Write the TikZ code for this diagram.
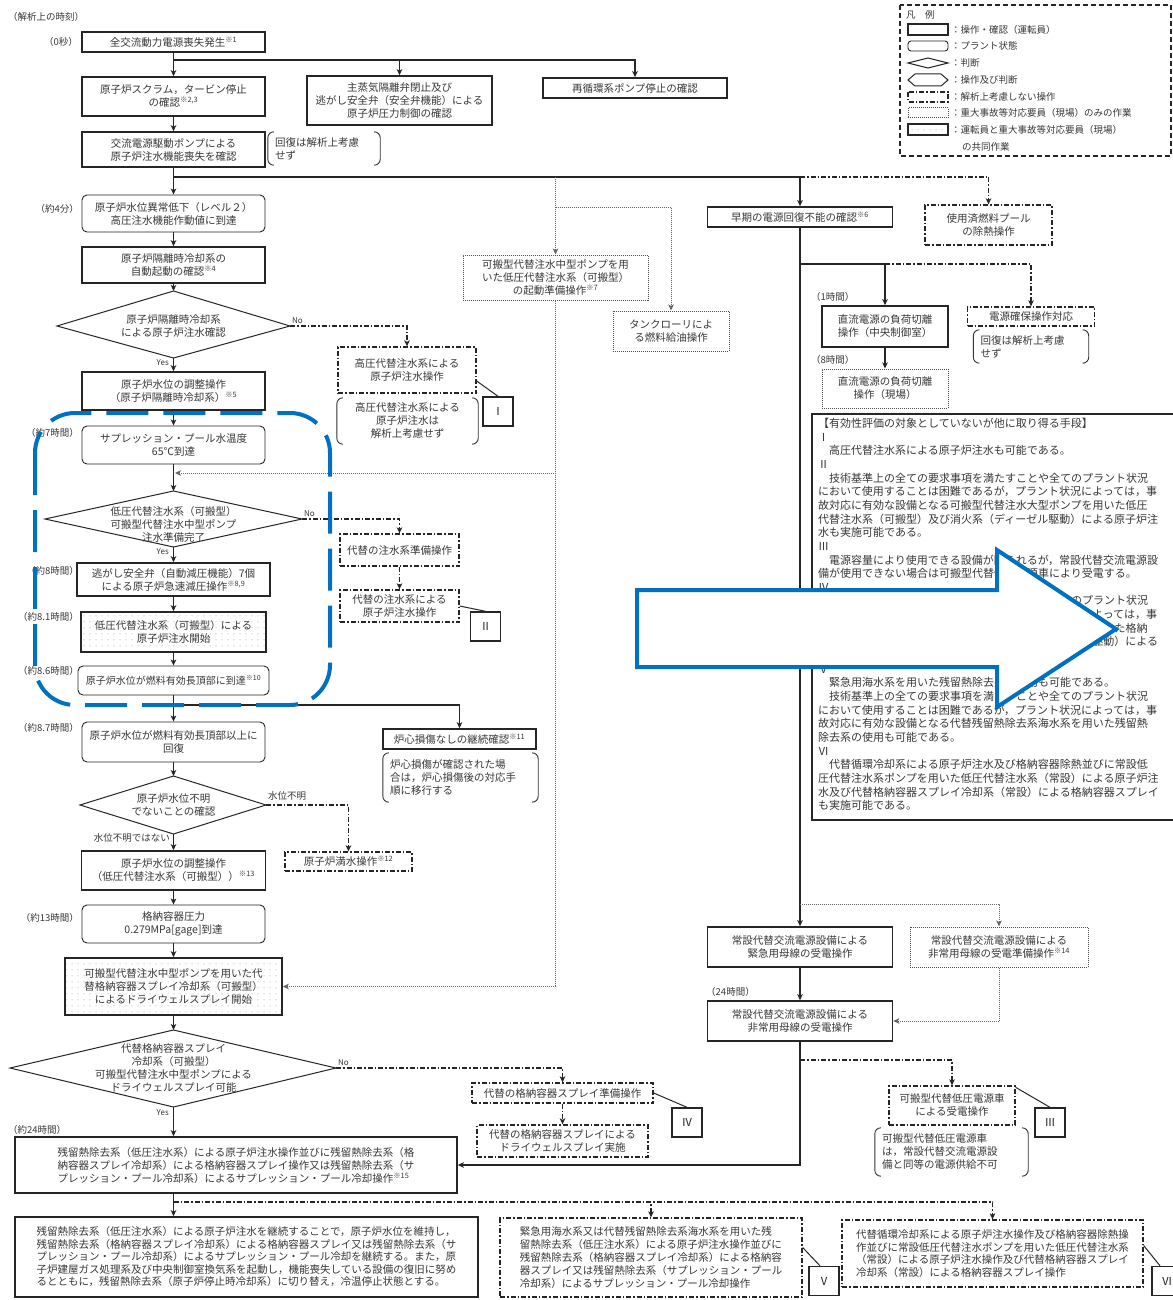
\documentclass[tikz,border=0pt]{standalone}
\usepackage{fontspec}
\setmainfont{Noto Sans CJK JP}
\usetikzlibrary{arrows.meta,patterns.meta,calc}
\newcommand\fs{\fontsize{10.5}{13}\selectfont}
\newcommand\fl{\fontsize{9.5}{11}\selectfont}
\newcommand\kome[1]{\textsuperscript{※#1}}
\definecolor{txt}{gray}{0.22}
\definecolor{ovblue}{RGB}{0,112,192}
\newcommand\mybrk[1]{%
  \draw[brk] ([xshift=6pt]#1.north west) -- (#1.north west) -- (#1.south west) -- ([xshift=6pt]#1.south west);
  \draw[brk] ([xshift=-6pt]#1.north east) -- (#1.north east) -- (#1.south east) -- ([xshift=-6pt]#1.south east);}
\tikzset{
  base/.style={font=\fs, text=txt, align=center, inner sep=1pt},
  opbox/.style={base, draw=black!85, line width=1.6pt},
  plantbox/.style={base, draw=black!85, line width=0.9pt, rounded corners=5pt},
  ddbox/.style={base, draw=black!85, line width=1.3pt, dash pattern=on 5pt off 2pt on 1.5pt off 2pt},
  dotbox/.style={base, draw=black!70, line width=1pt, dash pattern=on 1pt off 1pt},
  jointbox/.style={opbox, pattern={Dots[distance=6pt,radius=0.5pt]}, pattern color=black!45},
  notebox/.style={base, align=left, inner xsep=7pt},
  brk/.style={draw=black!80, line width=0.9pt, rounded corners=6pt},
  lab/.style={draw=black!85, line width=1.4pt, minimum width=30pt, minimum height=29pt, inner sep=0pt, font=\fontsize{11}{12}\selectfont, text=black!85},
  lbl/.style={font=\fl, text=txt, inner sep=0pt},
  yn/.style={font=\fontsize{8}{9}\selectfont, text=txt, inner sep=0pt},
  dia/.style={draw=black!85, line width=1pt},
  tip/.style={-{Stealth[length=6pt,width=5.5pt,inset=1.5pt]}},
  ln/.style={draw=black!85, line width=1.1pt},
  arr/.style={ln, tip},
  ddarr/.style={ln, dash pattern=on 5pt off 2pt on 1.5pt off 2pt, tip},
  dotarr/.style={draw=black!60, line width=0.9pt, dash pattern=on 1pt off 1pt, tip},
}
\begin{document}
\begin{tikzpicture}[x=1pt,y=-1pt]
\useasboundingbox (0,0) rectangle (1172,1300);
\fill[white] (0,0) rectangle (1172,1300);

% ---------- time labels ----------
\node[lbl, anchor=west] (tl0) at (8,17) {（解析上の時刻）};
\node[lbl, anchor=east] (tl1) at (78,42) {（0秒）};
\node[lbl, anchor=east] (tl2) at (79,209) {（約4分）};
\node[lbl, anchor=east] (tl3) at (79,433) {（約7時間）};
\node[lbl, anchor=east] (tl4) at (79,571) {（約8時間）};
\node[lbl, anchor=east] (tl5) at (79,617) {（約8.1時間）};
\node[lbl, anchor=east] (tl6) at (79,671) {（約8.6時間）};
\node[lbl, anchor=east] (tl7) at (79,728) {（約8.7時間）};
\node[lbl, anchor=east] (tl8) at (79,918) {（約13時間）};
\node[lbl, anchor=west] (tl9) at (8,1130) {（約24時間）};
\node[lbl, anchor=west] (tr1) at (811,297) {（1時間）};
\node[lbl, anchor=west] (tr2) at (811,360) {（8時間）};
\node[lbl, anchor=west] (tr3) at (706,992) {（24時間）};

% ---------- main column ----------
\node[opbox, minimum width=183pt, minimum height=20pt] (n1) at (173.5,42) {全交流動力電源喪失発生\kome{1}};
\node[opbox, minimum width=183pt, minimum height=39pt] (n2) at (173.5,96.5) {原子炉スクラム，タービン停止\\の確認\kome{2,3}};
\node[opbox, minimum width=185pt, minimum height=49pt] (n3) at (399.5,100.5) {主蒸気隔離弁閉止及び\\逃がし安全弁（安全弁機能）による\\原子炉圧力制御の確認};
\node[opbox, minimum width=184pt, minimum height=20pt] (n4) at (635,88) {再循環系ポンプ停止の確認};
\node[opbox, minimum width=183pt, minimum height=35pt] (n5) at (173.5,149.5) {交流電源駆動ポンプによる\\原子炉注水機能喪失を確認};
\node[notebox, text width=98pt, minimum height=33pt] (note1) at (324,148.5) {回復は解析上考慮\\せず};
\node[plantbox, minimum width=183pt, minimum height=37pt] (n6) at (173.5,213.5) {原子炉水位異常低下（レベル２）\\高圧注水機能作動値に到達};
\node[opbox, minimum width=183pt, minimum height=36pt] (n7) at (173.5,265) {原子炉隔離時冷却系の\\自動起動の確認\kome{4}};

\coordinate (d1t) at (173.5,291); \coordinate (d1b) at (173.5,358);
\coordinate (d1l) at (57,326);    \coordinate (d1r) at (290,326);
\draw[dia] (d1t) -- (d1r) -- (d1b) -- (d1l) -- cycle;
\node[base] (d1) at (173.5,326) {原子炉隔離時冷却系\\による原子炉注水確認};

\node[opbox, minimum width=183pt, minimum height=38pt] (n8) at (173.5,391) {原子炉水位の調整操作\\（原子炉隔離時冷却系）\kome{5}};
\node[plantbox, minimum width=183pt, minimum height=38pt] (n9) at (173.5,445) {サプレッション・プール水温度\\65℃到達};

\coordinate (d2t) at (173.5,491); \coordinate (d2b) at (173.5,547);
\coordinate (d2l) at (45,519);    \coordinate (d2r) at (302,519);
\draw[dia] (d2t) -- (d2r) -- (d2b) -- (d2l) -- cycle;
\node[base] (d2) at (173.5,524) {低圧代替注水系（可搬型）\\可搬型代替注水中型ポンプ\\注水準備完了};

\node[opbox, minimum width=193pt, minimum height=33pt] (n10) at (173.5,579.5) {逃がし安全弁（自動減圧機能）7個\\による原子炉急速減圧操作\kome{8,9}};
\node[jointbox, minimum width=185pt, minimum height=40pt] (n11) at (173.5,632) {低圧代替注水系（可搬型）による\\原子炉注水開始};
\node[plantbox, font=\fontsize{10}{12}\selectfont, minimum width=191pt, minimum height=29pt] (n12) at (173.5,680.5) {原子炉水位が燃料有効長頂部に到達\kome{10}};
\node[plantbox, minimum width=183pt, minimum height=40pt] (n13) at (173.5,742) {原子炉水位が燃料有効長頂部以上に\\回復};

\coordinate (d3t) at (173.5,776); \coordinate (d3b) at (173.5,834);
\coordinate (d3l) at (80,805);    \coordinate (d3r) at (266,805);
\draw[dia] (d3t) -- (d3r) -- (d3b) -- (d3l) -- cycle;
\node[base] (d3) at (173.5,805) {原子炉水位不明\\でないことの確認};

\node[opbox, minimum width=184pt, minimum height=39pt] (n14) at (173.5,870.5) {原子炉水位の調整操作\\（低圧代替注水系（可搬型））\kome{13}};
\node[plantbox, minimum width=183pt, minimum height=38pt] (n15) at (173.5,924) {格納容器圧力\\0.279MPa[gage]到達};
\node[jointbox, minimum width=217pt, minimum height=57pt] (n16) at (173.5,986.5) {可搬型代替注水中型ポンプを用いた代\\替格納容器スプレイ冷却系（可搬型）\\によるドライウェルスプレイ開始};

\coordinate (d4t) at (173.5,1030); \coordinate (d4b) at (173.5,1107);
\coordinate (d4l) at (10,1068);    \coordinate (d4r) at (336,1068);
\draw[dia] (d4t) -- (d4r) -- (d4b) -- (d4l) -- cycle;
\node[base] (d4) at (173.5,1068) {代替格納容器スプレイ\\冷却系（可搬型）\\可搬型代替注水中型ポンプによる\\ドライウェルスプレイ可能};

\node[opbox, align=left, minimum width=442pt, minimum height=56pt] (n17) at (236,1165) {残留熱除去系（低圧注水系）による原子炉注水操作並びに残留熱除去系（格\\納容器スプレイ冷却系）による格納容器スプレイ操作又は残留熱除去系（サ\\プレッション・プール冷却系）によるサプレッション・プール冷却操作\kome{15}};
\node[opbox, align=left, font=\fontsize{10.5}{12.5}\selectfont, minimum width=463pt, minimum height=80pt] (n18) at (246.5,1257) {残留熱除去系（低圧注水系）による原子炉注水を継続することで，原子炉水位を維持し，\\残留熱除去系（格納容器スプレイ冷却系）による格納容器スプレイ又は残留熱除去系（サ\\プレッション・プール冷却系）によるサプレッション・プール冷却を継続する。また，原\\子炉建屋ガス処理系及び中央制御室換気系を起動し，機能喪失している設備の復旧に努め\\るとともに，残留熱除去系（原子炉停止時冷却系）に切り替え，冷温停止状態とする。};

% ---------- side boxes ----------
\node[dotbox, minimum width=185pt, minimum height=45pt] (s1) at (555.5,277.5) {可搬型代替注水中型ポンプを用\\いた低圧代替注水系（可搬型）\\の起動準備操作\kome{7}};
\node[dotbox, minimum width=116pt, minimum height=40pt] (s2) at (671,331) {タンクローリによ\\る燃料給油操作};
\node[ddbox, minimum width=138pt, minimum height=46pt] (s3) at (407,370) {高圧代替注水系による\\原子炉注水操作};
\node[base, minimum width=141pt, minimum height=46pt] (note2) at (407.5,421) {高圧代替注水系による\\原子炉注水は\\解析上考慮せず};
\node[lab] (LI) at (498,411.5) {Ⅰ};
\node[ddbox, minimum width=119pt, minimum height=32pt] (s4) at (399.5,550) {代替の注水系準備操作};
\node[ddbox, minimum width=119pt, minimum height=32pt] (s5) at (399.5,606) {代替の注水系による\\原子炉注水操作};
\node[lab] (LII) at (485.5,626.5) {Ⅱ};
\node[opbox, minimum width=153pt, minimum height=20pt] (s6) at (459.5,739) {炉心損傷なしの継続確認\kome{11}};
\node[notebox, text width=141pt, minimum height=49pt] (note3) at (460.5,777.5) {炉心損傷が確認された場\\合は，炉心損傷後の対応手\\順に移行する};
\node[ddbox, minimum width=127pt, minimum height=19pt] (s7) at (348.5,861.5) {原子炉満水操作\kome{12}};
\node[ddbox, minimum width=181pt, minimum height=20pt] (s8) at (562.5,1093) {代替の格納容器スプレイ準備操作};
\node[ddbox, minimum width=171pt, minimum height=32pt] (s9) at (562.5,1141) {代替の格納容器スプレイによる\\ドライウェルスプレイ実施};
\node[lab] (LIV) at (687,1122.5) {Ⅳ};

% ---------- right column ----------
\node[opbox, minimum width=185pt, minimum height=20pt] (r1) at (800,217) {早期の電源回復不能の確認\kome{6}};
\node[ddbox, minimum width=127pt, minimum height=40pt] (r2) at (988.5,225) {使用済燃料プール\\の除熱操作};
\node[opbox, minimum width=126pt, minimum height=41pt] (r3) at (885,326.5) {直流電源の負荷切離\\操作（中央制御室）};
\node[ddbox, minimum width=127pt, minimum height=19pt] (r4) at (1031,316.5) {電源確保操作対応};
\node[notebox, text width=101pt, minimum height=33pt] (note4) at (1031,346.5) {回復は解析上考慮\\せず};
\node[dotbox, minimum width=126pt, minimum height=39pt] (r5) at (885,388.5) {直流電源の負荷切離\\操作（現場）};
\node[opbox, minimum width=185pt, minimum height=40pt] (r6) at (800,947) {常設代替交流電源設備による\\緊急用母線の受電操作};
\node[dotbox, minimum width=178pt, minimum height=40pt] (r7) at (999,947) {常設代替交流電源設備による\\非常用母線の受電準備操作\kome{14}};
\node[opbox, minimum width=185pt, minimum height=40pt] (r8) at (800,1021) {常設代替交流電源設備による\\非常用母線の受電操作};
\node[ddbox, minimum width=126pt, minimum height=39pt] (r9) at (952,1105.5) {可搬型代替低圧電源車\\による受電操作};
\node[notebox, text width=139pt, minimum height=48pt] (note5) at (951.5,1152) {可搬型代替低圧電源車\\は，常設代替交流電源設\\備と同等の電源供給不可};
\node[lab] (LIII) at (1050,1122.5) {Ⅲ};

\node[ddbox, align=left, font=\fontsize{10.5}{13.2}\selectfont, minimum width=302pt, minimum height=79pt] (V) at (651,1257.5) {緊急用海水系又は代替残留熱除去系海水系を用いた残\\留熱除去系（低圧注水系）による原子炉注水操作並びに\\残留熱除去系（格納容器スプレイ冷却系）による格納容\\器スプレイ又は残留熱除去系（サプレッション・プール\\冷却系）によるサプレッション・プール冷却操作};
\node[lab] (LV) at (824,1281) {Ⅴ};
\node[ddbox, align=left, font=\fontsize{10.5}{12.6}\selectfont, minimum width=301pt, minimum height=67pt] (VI) at (992.5,1253.5) {代替循環冷却系による原子炉注水操作及び格納容器除熱操\\作並びに常設低圧代替注水ポンプを用いた低圧代替注水系\\（常設）による原子炉注水操作及び代替格納容器スプレイ\\冷却系（常設）による格納容器スプレイ操作};
\node[lab] (LVI) at (1167,1281) {Ⅵ};

% ---------- brackets ----------
\mybrk{note1} \mybrk{note2} \mybrk{note3} \mybrk{note4} \mybrk{note5}

% ---------- yes / no ----------
\node[yn, anchor=south west] (y1n) at (292,324) {No};
\node[yn, anchor=east] (y1y) at (169,363) {Yes};
\node[yn, anchor=south west] (y2n) at (304,517) {No};
\node[yn, anchor=east] (y2y) at (169,552) {Yes};
\node[lbl, anchor=south west] (y3n) at (268,801) {水位不明};
\node[lbl, anchor=east] (y3y) at (170,838) {水位不明ではない};
\node[yn, anchor=south west] (y4n) at (338,1066) {No};
\node[yn, anchor=east] (y4y) at (169,1113) {Yes};

% ---------- connectors : main ----------
\coordinate (j1) at (173.5,60);
\coordinate (j2) at (173.5,177);
\coordinate (j3) at (555.5,177);
\coordinate (j4) at (555.5,207);
\coordinate (j5) at (175,473);
\coordinate (j6) at (173.5,705);
\coordinate (j7) at (173.5,1202);
\draw[arr] (n1.south) -- (n2.north);
\draw[arr] (j1) -| (n3.north);
\draw[arr] (j1) -| (n4.north);
\draw[arr] (n2.south) -- (n5.north);
\draw[arr] (n5.south) -- (n6.north);
\draw[arr] (j2) -| (r1.north);
\draw[ddarr] (r1.north |- j2) -| (r2.north);
\draw[dotarr] (j3) -- (s1.north);
\draw[dotarr] (j4) -| (s2.north);
\draw[arr] (n6.south) -- (n7.north);
\draw[arr] (n7.south) -- (d1t);
\draw[ddarr] (d1r) -| (s3.north);
\draw[arr] (d1b) -- (n8.north);
\draw[arr] (n8.south) -- (n9.north);
\draw[arr] (n9.south) -- (d2t);
\draw[dotarr] (s1.south) |- (n16.east);
\draw[dotarr] (s1.south |- j5) -- (j5);
\draw[ddarr] (d2r) -| (s4.north);
\draw[ddarr] (s4.south) -- (s5.north);
\draw[arr] (d2b) -- (n10.north);
\draw[arr] (n10.south) -- (n11.north);
\draw[arr] (n11.south) -- (n12.north);
\draw[arr] (n12.south) -- (n13.north);
\draw[arr] (j6) -| (s6.north);
\draw[arr] (n13.south) -- (d3t);
\draw[ddarr] (d3r) -| (s7.north);
\draw[arr] (d3b) -- (n14.north);
\draw[arr] (n14.south) -- (n15.north);
\draw[arr] (n15.south) -- (n16.north);
\draw[arr] (n16.south) -- (d4t);
\draw[ddarr] (d4r) -| (s8.north);
\draw[ddarr] (s8.south) -- (s9.north);
\draw[arr] (d4b) -- (d4b |- n17.north);
\draw[arr] (n17.south -| d4b) -- (d4b |- n18.north);
\draw[ddarr] (j7) -| (V.north);
\draw[ddarr] (j7) -| (VI.north);

% ---------- connectors : right ----------
\coordinate (j8) at (800,264);
\coordinate (j9) at (800,904);
\coordinate (j10) at (800,1060);
\draw[arr] (r1.south) -- (r6.north);
\draw[arr] (j8) -| (r3.north);
\draw[ddarr] (r3.north |- j8) -| (r4.north);
\draw[arr] (r3.south) -- (r5.north);
\draw[dotarr] (j9) -| (r7.north);
\draw[arr] (r6.south) -- (r8.north);
\draw[dotarr] (r7.south) |- (r8.east);
\draw[ddarr] (j10) -| (r9.north);
\draw[arr] (r8.south) |- (n17.east);

% ---------- label leaders ----------
\draw[ln, line width=1pt] ([yshift=-11pt]s3.east) -- (LI.north);
\draw[ln, line width=1pt] (s5.east) -- (LII.north);
\draw[ln, line width=1pt] ([yshift=-2pt]r9.north east) -- (LIII.north);
\draw[ln, line width=1pt] (s8.east) -- (LIV.north);
\draw[ln, line width=1pt] ([yshift=10pt]V.east) -- ([xshift=-4pt]LV.north);
\draw[ln, line width=1pt] ([yshift=8pt]VI.east) -- ([xshift=-7pt]LVI.north);

% ---------- big text box ----------
\draw[draw=black!85, line width=1.4pt] (812,414) rectangle (1180,820);
\node[anchor=north west, font=\fontsize{11}{13.65}\selectfont, text=txt, align=left, inner sep=0pt] (big) at (818,418) {%
【有効性評価の対象としていないが他に取り得る手段】\\
Ⅰ\\
\hspace*{1em}高圧代替注水系による原子炉注水も可能である。\\
Ⅱ\\
\hspace*{1em}技術基準上の全ての要求事項を満たすことや全てのプラント状況\\
において使用することは困難であるが，プラント状況によっては，事\\
故対応に有効な設備となる可搬型代替注水大型ポンプを用いた低圧\\
代替注水系（可搬型）及び消火系（ディーゼル駆動）による原子炉注\\
水も実施可能である。\\
Ⅲ\\
\hspace*{1em}電源容量により使用できる設備が限られるが，常設代替交流電源設\\
備が使用できない場合は可搬型代替低圧電源車により受電する。\\
Ⅳ\\
\hspace*{1em}技術基準上の全ての要求事項を満たすことや全てのプラント状況\\
において使用することは困難であるが，プラント状況によっては，事\\
故対応に有効な設備となる可搬型代替注水大型ポンプを用いた格納\\
容器スプレイ冷却系（可搬型）及び消火系（ディーゼル駆動）による\\
格納容器スプレイも実施可能である。\\
Ⅴ\\
\hspace*{1em}緊急用海水系を用いた残留熱除去系の使用も可能である。\\
\hspace*{1em}技術基準上の全ての要求事項を満たすことや全てのプラント状況\\
において使用することは困難であるが，プラント状況によっては，事\\
故対応に有効な設備となる代替残留熱除去系海水系を用いた残留熱\\
除去系の使用も可能である。\\
Ⅵ\\
\hspace*{1em}代替循環冷却系による原子炉注水及び格納容器除熱並びに常設低\\
圧代替注水系ポンプを用いた低圧代替注水系（常設）による原子炉注\\
水及び代替格納容器スプレイ冷却系（常設）による格納容器スプレイ\\
も実施可能である。};

% ---------- legend ----------
\draw[draw=black!85, line width=1.2pt, dash pattern=on 5pt off 3pt] (900,5) rectangle (1171,156);
\node[lbl, anchor=west] (lg0) at (906,15) {凡\quad 例};
\draw[draw=black!85, line width=1.6pt] (908,24) rectangle (948,35);
\node[lbl, anchor=west] (lg1) at (951,30) {：操作・確認（運転員）};
\draw[draw=black!85, line width=0.9pt, rounded corners=3pt] (908,41) rectangle (948,51);
\node[lbl, anchor=west] (lg2) at (951,46) {：プラント状態};
\draw[draw=black!85, line width=1pt] (908,63) -- (928,58) -- (948,63) -- (928,68) -- cycle;
\node[lbl, anchor=west] (lg3) at (951,63) {：判断};
\draw[draw=black!85, line width=1pt] (908,80) -- (915,74) -- (941,74) -- (948,80) -- (941,86) -- (915,86) -- cycle;
\node[lbl, anchor=west] (lg4) at (951,80) {：操作及び判断};
\draw[draw=black!85, line width=1.3pt, dash pattern=on 5pt off 2pt on 1.5pt off 2pt] (908,92) rectangle (948,102);
\node[lbl, anchor=west] (lg5) at (951,97) {：解析上考慮しない操作};
\draw[draw=black!70, line width=1pt, dash pattern=on 1pt off 1pt] (908,108) rectangle (948,118);
\node[lbl, anchor=west] (lg6) at (951,113) {：重大事故等対応要員（現場）のみの作業};
\draw[draw=black!85, line width=1.6pt, pattern={Dots[distance=6pt,radius=0.5pt]}, pattern color=black!45] (908,124) rectangle (948,135);
\node[lbl, anchor=west] (lg7) at (951,130) {：運転員と重大事故等対応要員（現場）};
\node[lbl, anchor=west] (lg8) at (962,147) {の共同作業};

% ---------- blue overlays ----------
\draw[ovblue, line width=4pt, dash pattern=on 42pt off 15pt, rounded corners=40pt] (35,413) rectangle (330,705);
\draw[ovblue, line width=4pt, fill=white, line join=miter, miter limit=4] (637,590) -- (997,590) -- (997,550) -- (1116,629) -- (997,707) -- (997,667) -- (637,667) -- cycle;
\end{tikzpicture}
\end{document}
